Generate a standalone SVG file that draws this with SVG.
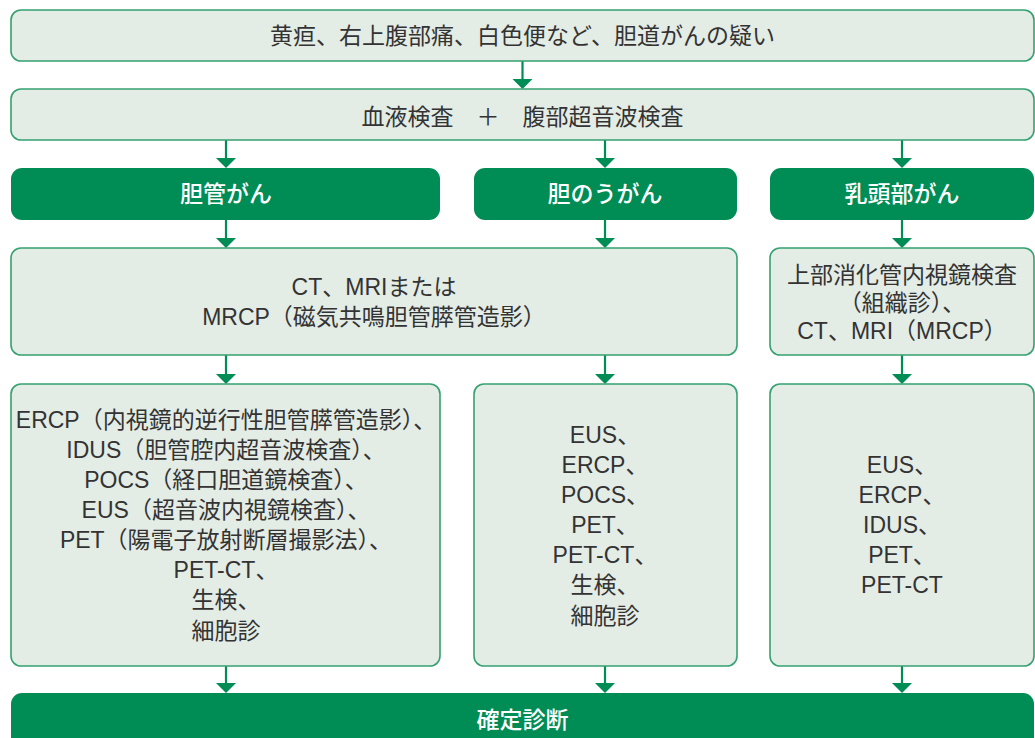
<svg xmlns="http://www.w3.org/2000/svg" width="1035" height="738" viewBox="0 0 1035 738">
<style>
.lb{fill:#e3ece5;stroke:#35a170;stroke-width:1.6}
.gb{fill:#008c55}
.t{font-family:"Liberation Sans","Noto Sans CJK JP",sans-serif;font-size:23px;fill:#333;text-anchor:middle}
.w{font-family:"Liberation Sans","Noto Sans CJK JP",sans-serif;font-size:23px;fill:#fff;text-anchor:middle;font-weight:500}
.c line{stroke:#008c55;stroke-width:2.2}
.c polygon{fill:#008c55}
</style>
<rect width="1035" height="738" fill="#fff"/>
<g id="connectors" class="c">
<line x1="522.5" y1="61" x2="522.5" y2="80"/><polygon points="512.5,79 532.5,79 522.5,89"/>
<line x1="226" y1="140" x2="226" y2="159"/><polygon points="216,158 236,158 226,168"/>
<line x1="605" y1="140" x2="605" y2="159"/><polygon points="595,158 615,158 605,168"/>
<line x1="902" y1="140" x2="902" y2="159"/><polygon points="892,158 912,158 902,168"/>
<line x1="226" y1="220" x2="226" y2="239"/><polygon points="216,238 236,238 226,248"/>
<line x1="605" y1="220" x2="605" y2="239"/><polygon points="595,238 615,238 605,248"/>
<line x1="902" y1="220" x2="902" y2="239"/><polygon points="892,238 912,238 902,248"/>
<line x1="226" y1="355" x2="226" y2="375"/><polygon points="216,374 236,374 226,384"/>
<line x1="605" y1="355" x2="605" y2="375"/><polygon points="595,374 615,374 605,384"/>
<line x1="902" y1="355" x2="902" y2="375"/><polygon points="892,374 912,374 902,384"/>
<line x1="226" y1="666" x2="226" y2="684"/><polygon points="216,683 236,683 226,693"/>
<line x1="605" y1="666" x2="605" y2="684"/><polygon points="595,683 615,683 605,693"/>
<line x1="902" y1="666" x2="902" y2="684"/><polygon points="892,683 912,683 902,693"/>
</g>
<g id="symptoms">
<rect class="lb" x="11" y="10" width="1023" height="51" rx="10"/>
<text class="t" x="522.5" y="44">黄疸、右上腹部痛、白色便など、胆道がんの疑い</text>
</g>
<g id="blood">
<rect class="lb" x="11" y="89" width="1023" height="51" rx="10"/>
<text class="t" x="522.5" y="125">血液検査　＋　腹部超音波検査</text>
</g>
<g id="bile-duct">
<rect class="gb" x="11" y="168" width="429" height="52" rx="11"/>
<text class="w" x="226" y="202">胆管がん</text>
</g>
<g id="gallbladder">
<rect class="gb" x="474" y="168" width="263" height="52" rx="11"/>
<text class="w" x="605" y="202">胆のうがん</text>
</g>
<g id="papilla">
<rect class="gb" x="770" y="168" width="264" height="52" rx="11"/>
<text class="w" x="902" y="202">乳頭部がん</text>
</g>
<g id="ct-mri">
<rect class="lb" x="11" y="248" width="726" height="107" rx="10"/>
<text class="t" x="374" y="295">CT、MRIまたは</text>
<text class="t" x="374" y="325">MRCP（磁気共鳴胆管膵管造影）</text>
</g>
<g id="endoscopy">
<rect class="lb" x="770" y="248" width="264" height="107" rx="10"/>
<text class="t" x="902" y="283">上部消化管内視鏡検査</text>
<text class="t" x="902" y="311">（組織診）、</text>
<text class="t" x="902" y="339">CT、MRI（MRCP）</text>
</g>
<g id="bile-duct-tests">
<rect class="lb" x="11" y="384" width="429" height="282" rx="10"/>
<text class="t" x="226" y="428">ERCP（内視鏡的逆行性胆管膵管造影）、</text>
<text class="t" x="226" y="458">IDUS（胆管腔内超音波検査）、</text>
<text class="t" x="226" y="488">POCS（経口胆道鏡検査）、</text>
<text class="t" x="226" y="518">EUS（超音波内視鏡検査）、</text>
<text class="t" x="226" y="548">PET（陽電子放射断層撮影法）、</text>
<text class="t" x="226" y="578">PET-CT、</text>
<text class="t" x="226" y="608">生検、</text>
<text class="t" x="226" y="639">細胞診</text>
</g>
<g id="gallbladder-tests">
<rect class="lb" x="474" y="384" width="263" height="282" rx="10"/>
<text class="t" x="605" y="443">EUS、</text>
<text class="t" x="605" y="473">ERCP、</text>
<text class="t" x="605" y="503">POCS、</text>
<text class="t" x="605" y="533">PET、</text>
<text class="t" x="605" y="563">PET-CT、</text>
<text class="t" x="605" y="593">生検、</text>
<text class="t" x="605" y="624">細胞診</text>
</g>
<g id="papilla-tests">
<rect class="lb" x="770" y="384" width="264" height="282" rx="10"/>
<text class="t" x="902" y="473">EUS、</text>
<text class="t" x="902" y="503">ERCP、</text>
<text class="t" x="902" y="533">IDUS、</text>
<text class="t" x="902" y="563">PET、</text>
<text class="t" x="902" y="593">PET-CT</text>
</g>
<g id="diagnosis">
<rect class="gb" x="11" y="693" width="1023" height="70" rx="11"/>
<text class="w" x="522.5" y="728">確定診断</text>
</g>
</svg>
